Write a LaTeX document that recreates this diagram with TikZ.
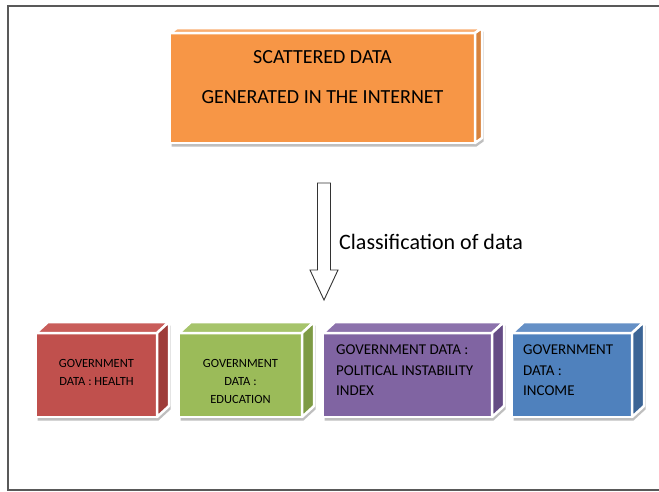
\documentclass[tikz,border=0pt]{standalone}
\usepackage{fontspec}
\setmainfont{Carlito}
\usetikzlibrary{backgrounds}

\definecolor{orangeF}{HTML}{F79646}
\definecolor{orangeT}{HTML}{F9AE72}
\definecolor{orangeS}{HTML}{D7833D}
\definecolor{redF}{HTML}{C0504D}
\definecolor{redT}{HTML}{C95D5A}
\definecolor{redS}{HTML}{9E3D3A}
\definecolor{greenF}{HTML}{9BBB59}
\definecolor{greenT}{HTML}{A6C46B}
\definecolor{greenS}{HTML}{7E9B45}
\definecolor{purpleF}{HTML}{8064A2}
\definecolor{purpleT}{HTML}{8C72AC}
\definecolor{purpleS}{HTML}{654C85}
\definecolor{blueF}{HTML}{4F81BD}
\definecolor{blueT}{HTML}{6590C6}
\definecolor{blueS}{HTML}{3C6596}

\tikzset{
  face/.style={draw=white, line width=2.5pt, line join=round},
  front/.style={face, inner sep=0pt, outer sep=0pt},
  shade/.style={fill=black!25},
  boxtext/.style={font=\fontsize{12.5}{18}\selectfont, align=center, inner sep=0pt},
  widetext/.style={font=\fontsize{15}{20.5}\selectfont, align=left, anchor=west, inner sep=0pt},
  frame/.style={draw=black!65, line width=1.3pt},
  hollow/.style={draw=black!80, line width=0.9pt, line join=miter, fill=white},
}

% top and right faces of a box, plus its shadow
% #1 front node, #2 top colour, #3 side colour, #4 depth x, #5 depth y
\newcommand{\boxsides}[5]{%
  \begin{pgfonlayer}{background}
    \fill[shade] ([shift={(1.5,3.5)}]#1.south west)
      -- ([shift={(1.5,3.5)}]#1.north west)
      -- ([shift={(#4+1.5,-#5+3.5)}]#1.north west)
      -- ([shift={(#4+1.5,-#5+3.5)}]#1.north east)
      -- ([shift={(#4+1.5,-#5+3.5)}]#1.south east)
      -- ([shift={(1.5,3.5)}]#1.south east) -- cycle;
  \end{pgfonlayer}
  \filldraw[face, fill=#2] (#1.north west) -- ++(#4,-#5)
    -- ([shift={(#4,-#5)}]#1.north east) -- (#1.north east) -- cycle;
  \filldraw[face, fill=#3] (#1.north east) -- ++(#4,-#5)
    -- ([shift={(#4,-#5)}]#1.south east) -- (#1.south east) -- cycle;
}

\begin{document}
\begin{tikzpicture}[x=1pt, y=-1pt]
\useasboundingbox (0,0) rectangle (659,491);
\draw[frame] (659,6) -- (8,6) -- (8,490) -- (659,490);

% source box
\node[front, fill=orangeF, minimum width=305, minimum height=110] (src) at (322.5,88) {};
\boxsides{src}{orangeT}{orangeS}{7}{5}
\node[font=\fontsize{20}{40}\selectfont, align=center, inner sep=0pt] (srctext) at (322.5,77)
  {SCATTERED DATA\\GENERATED IN THE INTERNET};

% classification arrow
\draw[hollow] (317.5,183) -- (317.5,270) -- (310,270) -- (324,300)
  -- (338,270) -- (330.5,270) -- (330.5,183) -- cycle;
\node[font=\fontsize{22}{26}\selectfont, anchor=west, inner sep=0pt] (classify) at (339,242)
  {Classification of data};

% data boxes
\node[front, fill=redF, minimum width=121, minimum height=84] (health) at (96.5,375) {};
\boxsides{health}{redT}{redS}{12}{11}
\node[boxtext] (healthtext) at (96.5,372) {GOVERNMENT\\DATA : HEALTH};

\node[front, fill=greenF, minimum width=123, minimum height=84] (education) at (240.5,375) {};
\boxsides{education}{greenT}{greenS}{12}{11}
\node[boxtext] (educationtext) at (240.5,381) {GOVERNMENT\\DATA :\\EDUCATION};

\node[front, fill=purpleF, minimum width=169, minimum height=84] (instability) at (407.5,375) {};
\boxsides{instability}{purpleT}{purpleS}{12}{11}
\node[widetext] (instabilitytext) at (336,370.5) {GOVERNMENT DATA :\\POLITICAL INSTABILITY\\INDEX};

\node[front, fill=blueF, minimum width=120, minimum height=84] (income) at (572,375) {};
\boxsides{income}{blueT}{blueS}{12}{11}
\node[widetext] (incometext) at (523,370.5) {GOVERNMENT\\DATA :\\INCOME};
\end{tikzpicture}
\end{document}
